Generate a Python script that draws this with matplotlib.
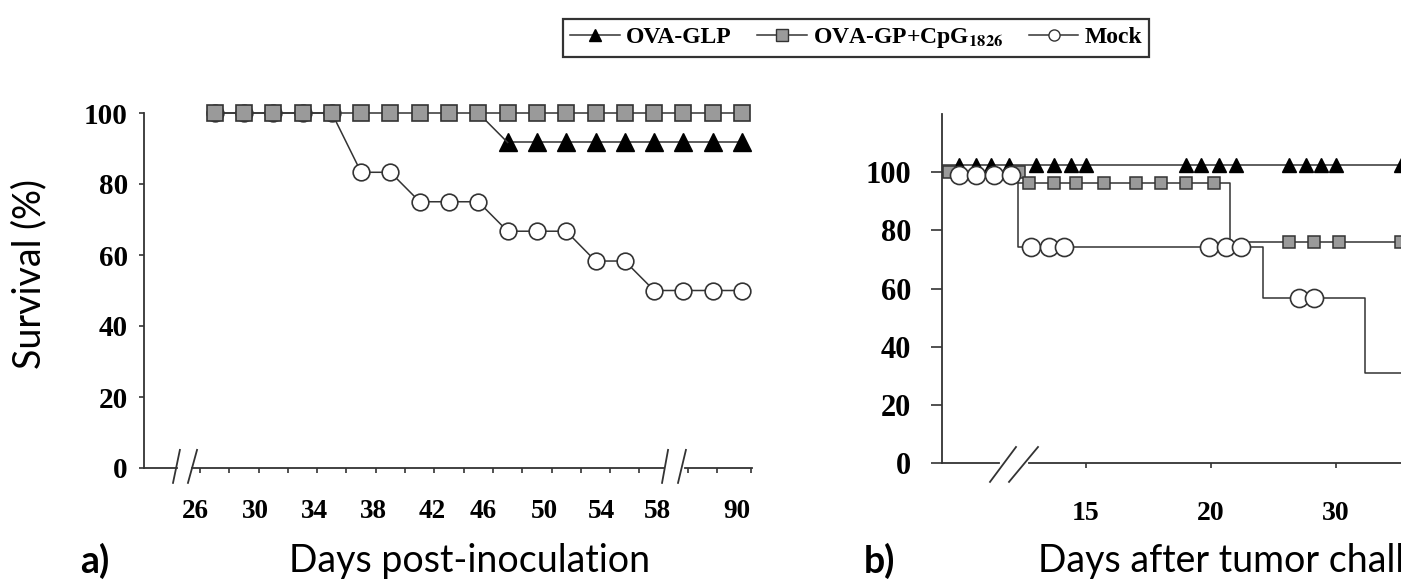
import numpy as np
import matplotlib
matplotlib.use("Agg")
import matplotlib.pyplot as plt
from matplotlib.lines import Line2D

plt.rcParams['mathtext.fontset'] = 'stix'

# ---- panel a: days post-inoculation (axis positions; last three sit after the break)
days_a = [27, 29, 31, 33, 35, 37, 39, 41, 43, 45, 47, 49, 51, 53, 55, 57, 59, 61, 63]
glp_a = [100, 100, 100, 100, 100, 100, 100, 100, 100, 100,
         91.7, 91.7, 91.7, 91.7, 91.7, 91.7, 91.7, 91.7, 91.7]
cpg_a = [100] * 19
mock_a = [100, 100, 100, 100, 100, 83.3, 83.3, 75, 75, 75,
          66.7, 66.7, 66.7, 58.3, 58.3, 50, 50, 50, 50]
xlab_a = ['26', '30', '34', '38', '42', '46', '50', '54', '58', '90']
xlab_a_pos = [25.66, 29.82, 33.85, 37.81, 41.84, 45.32, 49.48, 53.37, 57.19, 62.65]
xtick_a = [26, 28, 30, 32, 34, 36, 38, 40, 42, 44, 46, 48, 50, 52, 54, 56, 59.3, 61.3, 63.6]

# ---- panel b: Kaplan-Meier steps (axis positions) and censor marks
glp_b_t = [9.24, 30]
glp_b_s = [102.5, 102.5]
glp_b_mt = [9.9, 10.6, 11.2, 11.9, 13.0, 13.7, 14.4, 15.0, 19.0, 19.6, 20.3, 21.0,
            23.1, 23.8, 24.4, 25.0, 27.6]
glp_b_ms = [102.5] * 17

cpg_b_t = [9.24, 12.28, 20.76, 30]
cpg_b_s = [100, 96.2, 76, 76]
cpg_b_mt = [9.5, 12.3, 12.7, 13.7, 14.6, 15.7, 17.0, 18.0, 19.0, 20.1, 23.1, 24.1, 25.1, 27.6]
cpg_b_ms = [100, 100, 96.2, 96.2, 96.2, 96.2, 96.2, 96.2, 96.2, 96.2, 76, 76, 76, 76]

mock_b_t = [9.24, 12.28, 22.08, 26.15, 30]
mock_b_s = [99, 74.2, 56.7, 31, 31]
mock_b_mt = [9.9, 10.6, 11.3, 12.0, 12.8, 13.5, 14.1, 19.9, 20.6, 21.2, 23.5, 24.1]
mock_b_ms = [99, 99, 99, 99, 74.2, 74.2, 74.2, 74.2, 74.2, 74.2, 56.7, 56.7]

xtick_b = [15, 20, 25]
xlab_b = ['15', '20', '30']
yticks = [0, 20, 40, 60, 80, 100]

lc = '#333333'
lw = 1.1
serif = 'Liberation Serif'
sans = 'Lato'

fig = plt.figure(figsize=(14.01, 5.83), dpi=100)

# ================= panel a =================
axA = fig.add_axes([144 / 1401, 115 / 583, 608 / 1401, 355 / 583])
axA.set_xlim(22.18, 63.68)
axA.set_ylim(0, 100)
axA.plot(days_a, mock_a, color=lc, lw=lw, marker='o', ms=12, mfc='white', mec=lc,
         mew=1.2, clip_on=False, zorder=3)
axA.plot(days_a[10:], glp_a[10:], color=lc, lw=lw, marker='^', ms=13.5, mfc='black',
         mec='black', clip_on=False, zorder=4)
axA.plot(days_a[9:11], glp_a[9:11], color=lc, lw=lw, zorder=4)
axA.plot(days_a, cpg_a, color=lc, lw=lw, marker='s', ms=11, mfc='#9a9a9a', mec=lc,
         mew=1.2, clip_on=False, zorder=5)

for s in ['top', 'right', 'bottom']:
    axA.spines[s].set_visible(False)
axA.spines['left'].set_linewidth(1.3)
axA.spines['left'].set_color(lc)

# broken x axis
for x0, x1 in [(22.18, 24.45), (25.45, 57.7), (59.1, 63.68)]:
    axA.plot([x0, x1], [0, 0], color=lc, lw=1.3, clip_on=False, zorder=2)
for x0, x1 in [(24.16, 24.63), (25.18, 25.8), (57.54, 57.95), (58.63, 59.17)]:
    axA.plot([x0, x1], [-4.2, 5.1], color=lc, lw=1.3, clip_on=False, zorder=2)

axA.set_yticks(yticks)
axA.set_yticklabels([str(v) for v in yticks], fontfamily=serif, fontweight='bold', fontsize=21)
axA.tick_params(axis='y', length=3.6, width=1.2, color=lc, pad=8)
axA.set_xticks(xlab_a_pos)
axA.set_xticklabels(xlab_a, fontfamily=serif, fontweight='bold', fontsize=19.5)
axA.tick_params(axis='x', which='major', length=0, pad=22)
axA.set_xticks(xtick_a, minor=True)
axA.tick_params(axis='x', which='minor', length=3.6, width=1.2, color=lc, direction='out')

fig.text(29 / 1401, 1 - 274 / 583, 'Survival (%)', fontfamily=sans, fontsize=27,
         rotation=90, ha='center', va='center')
fig.text(470 / 1401, 1 - 561 / 583, 'Days post-inoculation', fontfamily=sans, fontsize=27,
         ha='center', va='center')
fig.text(95 / 1401, 1 - 561 / 583, 'a)', fontfamily=sans, fontweight='bold', fontsize=27,
         ha='center', va='center')

# ================= panel b =================
axB = fig.add_axes([942 / 1401, 120 / 583, (30 - 9.24) * 25 / 1401, 349 / 583])
axB.set_xlim(9.24, 30)
axB.set_ylim(0, 120)
axB.step(glp_b_t, glp_b_s, where='post', color=lc, lw=lw, zorder=2)
axB.step(cpg_b_t, cpg_b_s, where='post', color=lc, lw=lw, zorder=2)
axB.step(mock_b_t, mock_b_s, where='post', color=lc, lw=lw, zorder=2)
axB.plot(glp_b_mt, glp_b_ms, ls='none', marker='^', ms=10.5, mfc='black', mec='black', zorder=3)
axB.plot(cpg_b_mt, cpg_b_ms, ls='none', marker='s', ms=8.5, mfc='#9a9a9a', mec=lc, mew=1.1, zorder=4)
axB.plot(mock_b_mt, mock_b_ms, ls='none', marker='o', ms=13, mfc='white', mec=lc, mew=1.2, zorder=5)

for s in ['top', 'right', 'bottom']:
    axB.spines[s].set_visible(False)
axB.spines['left'].set_linewidth(1.3)
axB.spines['left'].set_color(lc)
for x0, x1 in [(9.24, 11.5), (12.7, 30)]:
    axB.plot([x0, x1], [0, 0], color=lc, lw=1.3, clip_on=False, zorder=2)
for x0, x1 in [(11.16, 12.2), (11.92, 13.08)]:
    axB.plot([x0, x1], [-6.5, 5.5], color=lc, lw=1.3, clip_on=False, zorder=2)

axB.set_yticks(yticks)
axB.set_yticklabels([str(v) for v in yticks], fontfamily=serif, fontweight='bold', fontsize=22)
axB.tick_params(axis='y', length=8, width=1.2, color=lc, pad=14)
axB.set_xticks(xtick_b)
axB.set_xticklabels(xlab_b, fontfamily=serif, fontweight='bold', fontsize=20)
axB.tick_params(axis='x', length=3.6, width=1.2, color=lc, pad=24)

fig.text(879 / 1401, 1 - 561 / 583, 'b)', fontfamily=sans, fontweight='bold', fontsize=27,
         ha='center', va='center')
fig.text(1038 / 1401, 1 - 561 / 583, 'Days after tumor challenge', fontfamily=sans, fontsize=27,
         ha='left', va='center')

# ================= legend =================
handles = [
    Line2D([], [], color=lc, lw=lw, marker='^', ms=9, mfc='black', mec='black'),
    Line2D([], [], color=lc, lw=lw, marker='s', ms=8, mfc='#9a9a9a', mec=lc),
    Line2D([], [], color=lc, lw=lw, marker='o', ms=8, mfc='white', mec=lc),
]
labels = ['OVA-GLP', r'OVA-GP+CpG$_{\mathbf{1826}}$', 'Mock']
leg = fig.legend(handles, labels, loc='upper left', bbox_to_anchor=(563 / 1401, 1 - 19 / 583),
                 ncol=3, frameon=True, fancybox=False, handlelength=2.1, handletextpad=0.25,
                 columnspacing=1.1, borderpad=0.3, borderaxespad=0,
                 prop={'family': serif, 'weight': 'bold', 'size': 17})
leg.get_frame().set_edgecolor('black')
leg.get_frame().set_linewidth(1.6)

fig.savefig('out.png', dpi=100)
